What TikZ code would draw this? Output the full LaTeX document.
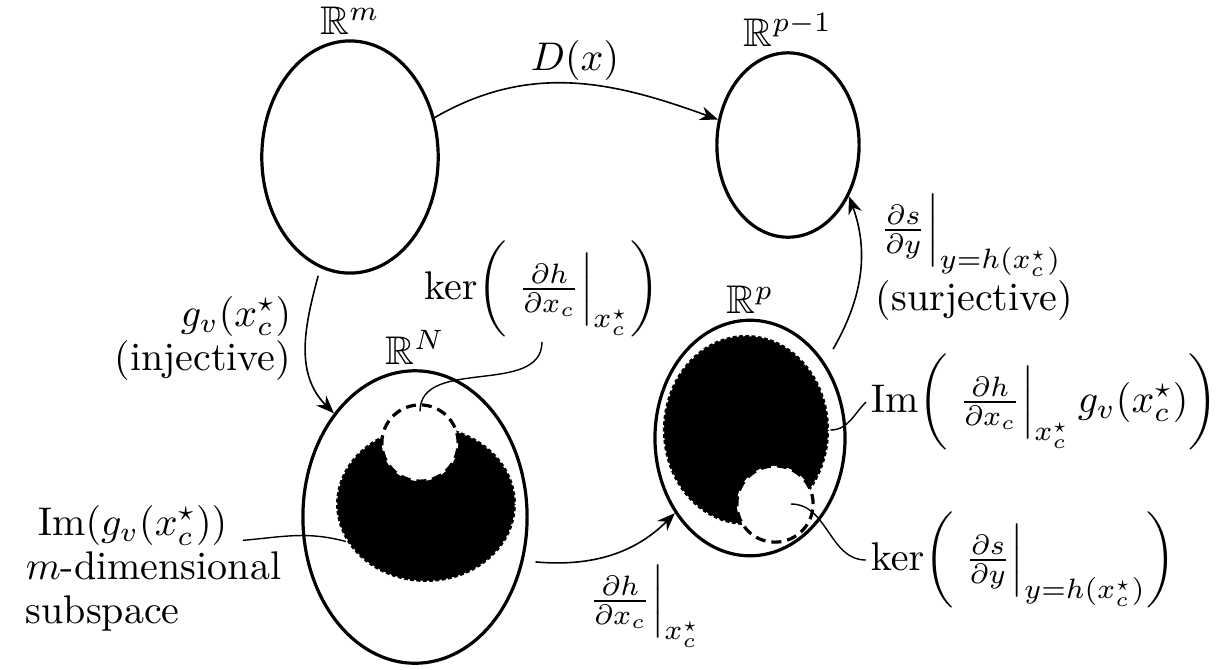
\documentclass[tikz,border=0pt]{standalone}
\usepackage{amsmath,amssymb}
\usepackage{tikz}
\usetikzlibrary{shapes,arrows.meta,positioning,calc}

\begin{document}
\begin{tikzpicture}[
    x=25pt, y=25pt,
    font=\fontsize{10}{11}\selectfont,
    vecspace/.style={draw, ellipse, thick, inner sep=0pt},
    imregion/.style={ellipse, fill=black, draw=white, densely dotted, line width=0.6pt, inner sep=0pt},
    kerregion/.style={circle, fill=white, draw=black, thick, dash pattern=on 2.5pt off 1.5pt, inner sep=0pt, minimum size=0.67cm},
    tag/.style={inner sep=1pt},
    map/.style={-{Stealth[length=4.5pt,width=3.5pt]}},
    pointer/.style={line width=0.35pt}
]

  \useasboundingbox (0,0) rectangle (12.23,-6.69);

  % =========================================================================
  % ESPACOS
  % =========================================================================
  \node[vecspace, minimum width=1.55cm, minimum height=2.04cm, label={[tag]above:$\mathbb{R}^m$}] (Rm) at (3.50,-1.57) {};
  \node[vecspace, minimum width=1.25cm, minimum height=1.62cm, label={[tag]above:$\mathbb{R}^{p-1}$}] (Rp1) at (7.88,-1.45) {};
  \node[vecspace, minimum width=1.97cm, minimum height=2.57cm, label={[tag]above:$\mathbb{R}^N$}] (RN) at (4.15,-5.17) {};
  \node[vecspace, minimum width=1.67cm, minimum height=2.07cm, label={[tag]above:$\mathbb{R}^p$}] (Rp) at (7.50,-4.38) {};

  % imagens e nucleos
  \node[imregion, minimum width=1.58cm, minimum height=1.37cm] (imN) at (4.26,-5.04) {};
  \node[kerregion] (kerN) at (4.20,-4.43) {};
  \node[imregion, minimum width=1.46cm, minimum height=1.67cm] (imP) at (7.46,-4.30) {};
  \node[kerregion] (kerP) at (7.75,-5.04) {};

  % =========================================================================
  % MAPAS
  % =========================================================================
  \draw[map] (Rm.25) to[out=30, in=160] (Rp1.160);
  \node[tag] (dxlab) at (5.75,-0.60) {$D(x)$};

  \draw[map, shorten <=2pt] (Rm.255) to[out=255, in=135] (RN.128);
  \node[tag, anchor=east, align=right] (gvlab) at (2.96,-3.38) {$g_v(x_c^\star)$\\(injective)};

  \draw[map, shorten <=3pt] (RN.-22) to[out=-5, in=225] (Rp.225);
  \node[tag] (dhlab) at (6.43,-6.06) {$\left.\frac{\partial h}{\partial x_c}\right|_{x_c^\star}$};

  \draw[map, shorten <=4pt] (Rp.45) to[out=60, in=-70] (Rp1.-40);
  \node[tag, anchor=west, align=left] (surjlab) at (8.71,-2.57) {$\left.\frac{\partial s}{\partial y}\right|_{y=h(x_c^\star)}$\\(surjective)};

  % =========================================================================
  % ROTULOS
  % =========================================================================
  \node[tag] (kerhlab) at (5.42,-2.89) {$\ker\!\left(\,\left.\frac{\partial h}{\partial x_c}\right|_{x_c^\star}\right)$};
  \draw[pointer] (kerhlab.south) to[out=-90, in=90] ($(kerN.north)+(0,-0.08)$);

  \node[tag, anchor=west, align=left] (imglab) at (0.21,-5.68) {\hspace*{3pt}$\operatorname{Im}(g_v(x_c^\star))$\\$m$-dimensional\\subspace};
  \draw[pointer] ($(imglab.north east)+(-0.43,-0.40)$) to[out=5, in=165] (imN.205);

  \node[tag, anchor=west] (imhlab) at (8.66,-4.02) {$\operatorname{Im}\!\left(\,\left.\frac{\partial h}{\partial x_c}\right|_{x_c^\star} g_v(x_c^\star)\right)$};
  \draw[pointer] (imhlab.west) to[out=-135, in=0] (imP.east);

  \node[tag, anchor=west] (kerplab) at (8.66,-5.60) {$\ker\!\left(\,\left.\frac{\partial s}{\partial y}\right|_{y=h(x_c^\star)}\right)$};
  \draw[pointer] (kerplab.west) to[out=180, in=0] ([xshift=4pt]kerP.center);

\end{tikzpicture}
\end{document}
